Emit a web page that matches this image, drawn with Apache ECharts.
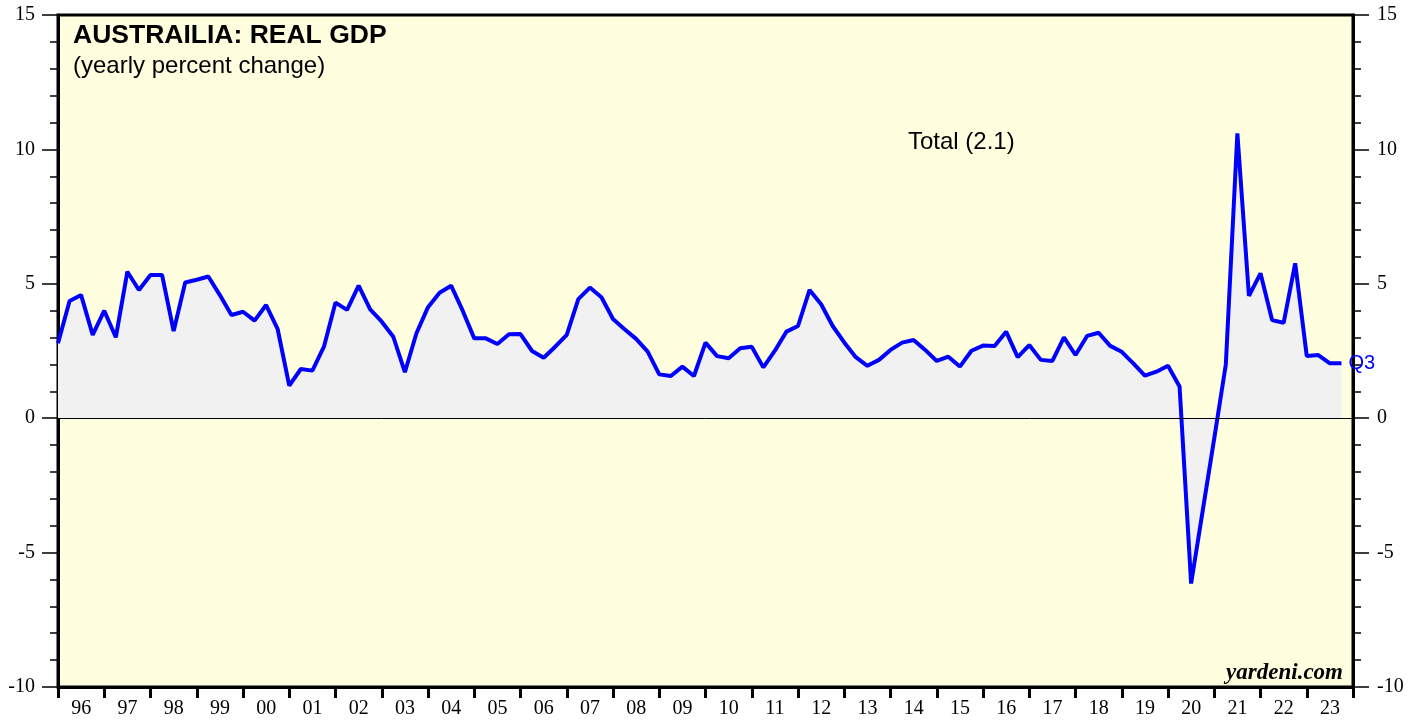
<!DOCTYPE html>
<html>
<head>
<meta charset="utf-8">
<script src="https://cdn.jsdelivr.net/npm/echarts@6/dist/echarts.min.js"></script>
<style>
html,body{margin:0;padding:0;background:#fff;}
#chart{width:1419px;height:721px;}
</style>
</head>
<body>
<div id="chart"></div>
<script>
// Year tick labels (one band per year)
var yearLabels = ['96','97','98','99','00','01','02','03','04','05','06','07','08','09',
                  '10','11','12','13','14','15','16','17','18','19','20','21','22','23'];
// First observation is 1995 Q4, plotted at the 1996 boundary; quarterly thereafter
var firstX = 1996;
var quarterStep = 0.25;
// Australia real GDP, yearly percent change, quarterly from 1995 Q4 to 2023 Q3
var gdpValues = [
  2.79, 4.36, 4.58, 3.10, 4.00, 3.01, 5.45, 4.77, 5.33, 5.33,
  3.24, 5.05, 5.15, 5.27, 4.58, 3.84, 3.96, 3.63, 4.21, 3.31,
  1.21, 1.83, 1.77, 2.66, 4.30, 4.03, 4.93, 4.05, 3.59, 3.03,
  1.71, 3.16, 4.13, 4.67, 4.93, 4.00, 2.97, 2.97, 2.76, 3.12,
  3.13, 2.50, 2.25, 2.66, 3.10, 4.43, 4.86, 4.50, 3.69, 3.31,
  2.95, 2.48, 1.63, 1.57, 1.92, 1.57, 2.81, 2.31, 2.23, 2.60,
  2.66, 1.89, 2.51, 3.22, 3.43, 4.77, 4.24, 3.43, 2.82, 2.27,
  1.95, 2.17, 2.54, 2.81, 2.91, 2.54, 2.13, 2.29, 1.92, 2.51,
  2.70, 2.69, 3.22, 2.27, 2.72, 2.17, 2.13, 3.01, 2.35, 3.06,
  3.18, 2.69, 2.47, 2.04, 1.58, 1.73, 1.95, 1.18, -6.15, -3.45,
  -0.75, 2.00, 10.60, 4.55, 5.39, 3.65, 3.55, 5.76, 2.31, 2.35,
  2.04, 2.04
];
var titleText = 'AUSTRAILIA: REAL GDP';
var subtitleText = '(yearly percent change)';
var seriesLabel = 'Total (2.1)';
var lastLabel = 'Q3';
var sourceText = 'yardeni.com';

var seriesData = gdpValues.map(function (v, i) { return [firstX + i * quarterStep, v]; });

var chart = echarts.init(document.getElementById('chart'), null, {renderer: 'canvas'});

function yAx(pos, margin) {
  return {
    type: 'value', min: -10, max: 15, interval: 5, position: pos,
    axisLine: {show: true, onZero: false, lineStyle: {color: '#000', width: 3}},
    axisTick: {show: true, inside: false, length: 16, lineStyle: {color: '#000', width: 1.5}},
    minorTick: {show: true, splitNumber: 5, length: 8, lineStyle: {color: '#000', width: 1.5}},
    axisLabel: {fontFamily: 'Liberation Serif', fontSize: 20, color: '#000', margin: margin},
    splitLine: {show: false},
    minorSplitLine: {show: false}
  };
}

chart.setOption({
  animation: false,
  backgroundColor: '#ffffff',
  grid: {
    left: 58, right: 66, top: 15, bottom: 34,
    show: true, backgroundColor: '#ffffe0', borderColor: '#000', borderWidth: 3
  },
  xAxis: [
    {
      type: 'category', data: yearLabels, position: 'bottom', boundaryGap: true,
      axisLine: {show: true, onZero: false, lineStyle: {color: '#000', width: 3}},
      axisTick: {show: true, inside: false, length: 11, lineStyle: {color: '#000', width: 3}},
      axisLabel: {fontFamily: 'Liberation Serif', fontSize: 20, color: '#000', margin: 12, interval: 0},
      splitLine: {show: false}
    },
    {
      type: 'value', min: 1996, max: 2024, show: false, splitLine: {show: false}
    }
  ],
  yAxis: [yAx('left', 23), yAx('right', 24)],
  graphic: [
    {type: 'text', x: 73, y: 36, z: 100, style: {text: titleText, fontFamily: 'Liberation Sans', fontWeight: 'bold', fontSize: 26.5, fill: '#000', verticalAlign: 'middle'}},
    {type: 'text', x: 73, y: 66, z: 100, style: {text: subtitleText, fontFamily: 'Liberation Sans', fontSize: 24, fill: '#000', verticalAlign: 'middle'}},
    {type: 'text', x: 908, y: 142, z: 100, style: {text: seriesLabel, fontFamily: 'Liberation Sans', fontSize: 24, fill: '#000', verticalAlign: 'middle'}},
    {type: 'text', x: 1343, y: 673, z: 100, style: {text: sourceText, fontFamily: 'Liberation Serif', fontWeight: 'bold', fontStyle: 'italic', fontSize: 23, fill: '#000', align: 'right', verticalAlign: 'middle'}}
  ],
  series: [
    {
      type: 'line', xAxisIndex: 1, yAxisIndex: 0, data: seriesData,
      showSymbol: false, symbol: 'none',
      lineStyle: {color: '#0000ff', width: 4},
      areaStyle: {color: '#f1f1f1', opacity: 1, origin: 0},
      endLabel: {show: true, formatter: lastLabel, color: '#0000ff', fontFamily: 'Liberation Sans', fontSize: 20, distance: 7},
      markLine: {
        silent: true, symbol: 'none', label: {show: false},
        lineStyle: {color: '#000', width: 1, type: 'solid'},
        data: [{yAxis: 0}]
      },
      z: 3
    }
  ]
});
</script>
</body>
</html>
